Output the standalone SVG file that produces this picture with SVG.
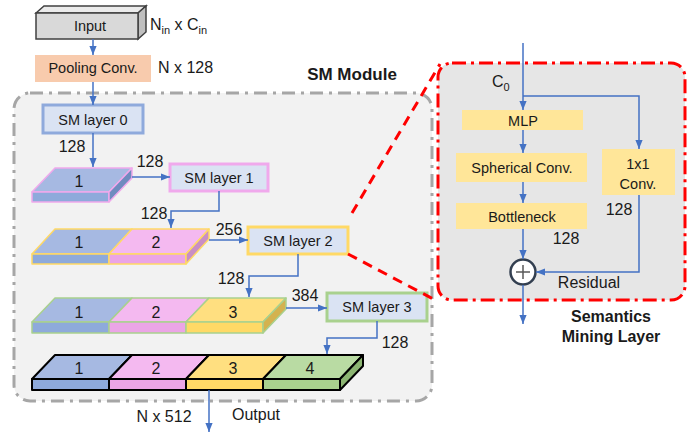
<svg xmlns="http://www.w3.org/2000/svg" width="699" height="436" viewBox="0 0 699 436">
<style>
text{font-family:"Liberation Sans",Arial,sans-serif;fill:#1a1a1a}
.t14{font-size:14.5px}
.t15{font-size:16px}
.mid{text-anchor:middle}
.bold{font-weight:bold}
.sm{fill:#dae3f3;stroke-width:3}
.yb{fill:#ffe699}
.conn{fill:none;stroke:#4472c4;stroke-width:1.5}
.conn.a{marker-end:url(#ah)}
.bT{fill:#a6b9e2}.bF{fill:#8eaadb}.bS{fill:#6f8bbf}
.pT{fill:#f4b9f0}.pF{fill:#eba5e6}.pS{fill:#c98fc4}
.yT{fill:#ffdf80}.yF{fill:#ffd966}.yS{fill:#d4b24f}
.gT{fill:#b9dba3}.gF{fill:#a9d18e}.gS{fill:#8cb572}
.red{fill:none;stroke:#ff0000;stroke-width:3;stroke-dasharray:10 7}
</style>
<defs>
<marker id="ah" viewBox="0 0 10 10" refX="10" refY="5" markerWidth="9" markerHeight="9" markerUnits="userSpaceOnUse" orient="auto">
<path d="M0,1 L10,5 L0,9 z" fill="#4472c4"/>
</marker>
</defs>
<rect width="699" height="436" fill="#ffffff"/>

<g id="sm-module">
<rect x="14" y="93" width="418" height="308" rx="16" fill="#f2f2f2" stroke="#a6a6a6" stroke-width="3" stroke-dasharray="13 6 3 6"/>
<text x="352" y="80" class="bold mid" font-size="17">SM Module</text>
</g>

<g id="sml-panel">
<rect x="438" y="63" width="247" height="237" rx="14" fill="#e6e6e6" stroke="#ff0000" stroke-width="3" stroke-dasharray="14 5 3 5"/>
<text x="611" y="322" class="bold mid" font-size="16">Semantics</text>
<text x="611" y="342" class="bold mid" font-size="16">Mining Layer</text>
</g>

<g id="input">
<polygon points="36,13 44,6 146,6 138,13" fill="#ebebeb" stroke="#404040" stroke-width="1.5"/>
<polygon points="138,13 146,6 146,32 138,39" fill="#bfbfbf" stroke="#404040" stroke-width="1.5"/>
<rect x="36" y="13" width="102" height="26" fill="#d9d9d9" stroke="#404040" stroke-width="1.5"/>
<text x="90" y="31" class="t14 mid">Input</text>
<text x="150" y="30" class="t15">N<tspan font-size="11" dy="4">in</tspan><tspan dy="-4"> x C</tspan><tspan font-size="11" dy="4">in</tspan></text>
</g>

<g id="pooling">
<rect x="35" y="55" width="116" height="27" fill="#f8cbad"/>
<text x="93" y="73" class="t14 mid">Pooling Conv.</text>
<text x="158" y="73" class="t15">N x 128</text>
</g>

<g id="sm-layer-0">
<rect x="43" y="105" width="100" height="28" class="sm" stroke="#8faadc"/>
<text x="93" y="125" class="t14 mid">SM layer 0</text>
</g>
<g id="sm-layer-1">
<rect x="170" y="164" width="98" height="27" class="sm" stroke="#f0a9ec"/>
<text x="219" y="183" class="t14 mid">SM layer 1</text>
</g>
<g id="sm-layer-2">
<rect x="248" y="227" width="100" height="27" class="sm" stroke="#ffd966"/>
<text x="298" y="246" class="t14 mid">SM layer 2</text>
</g>
<g id="sm-layer-3">
<rect x="327" y="293" width="100" height="28" class="sm" stroke="#a9d18e"/>
<text x="377" y="312" class="t14 mid">SM layer 3</text>
</g>

<g id="slab-1" stroke="#f0a9ec" stroke-width="1.5" stroke-linejoin="round">
<polygon class="bT" points="55,168 132,168 109,192 32,192"/>
<rect class="bF" x="32" y="192" width="77" height="10"/>
<polygon class="bS" points="109,192 132,168 132,178 109,202"/>
<text x="79" y="187" class="t15 mid" stroke="none">1</text>
</g>

<g id="slab-2" stroke="#ffd966" stroke-width="1.5" stroke-linejoin="round">
<polygon class="bT" points="55,229 132,229 109,254 32,254"/>
<rect class="bF" x="32" y="254" width="77" height="10"/>
<polygon class="pT" points="132,229 209,229 186,254 109,254"/>
<rect class="pF" x="109" y="254" width="77" height="10"/>
<polygon class="pS" points="186,254 209,229 209,239 186,264"/>
<text x="79" y="248" class="t15 mid" stroke="none">1</text>
<text x="156" y="248" class="t15 mid" stroke="none">2</text>
</g>

<g id="slab-3" stroke="#a9d18e" stroke-width="1.5" stroke-linejoin="round">
<polygon class="bT" points="55,298 132,298 109,322 32,322"/>
<rect class="bF" x="32" y="322" width="77" height="11"/>
<polygon class="pT" points="132,298 209,298 186,322 109,322"/>
<rect class="pF" x="109" y="322" width="77" height="11"/>
<polygon class="yT" points="209,298 286,298 263,322 186,322"/>
<rect class="yF" x="186" y="322" width="77" height="11"/>
<polygon class="yS" points="263,322 286,298 286,309 263,333"/>
<text x="79" y="318" class="t15 mid" stroke="none">1</text>
<text x="156" y="318" class="t15 mid" stroke="none">2</text>
<text x="233" y="318" class="t15 mid" stroke="none">3</text>
</g>

<g id="slab-4" stroke="#000000" stroke-width="2" stroke-linejoin="round">
<polygon class="bT" points="55,355 132,355 109,379 32,379"/>
<rect class="bF" x="32" y="379" width="77" height="11"/>
<polygon class="pT" points="132,355 209,355 186,379 109,379"/>
<rect class="pF" x="109" y="379" width="77" height="11"/>
<polygon class="yT" points="209,355 286,355 263,379 186,379"/>
<rect class="yF" x="186" y="379" width="77" height="11"/>
<polygon class="gT" points="286,355 363,355 340,379 263,379"/>
<rect class="gF" x="263" y="379" width="77" height="11"/>
<polygon class="gS" points="340,379 363,355 363,366 340,390"/>
<text x="79" y="374" class="t15 mid" stroke="none">1</text>
<text x="156" y="374" class="t15 mid" stroke="none">2</text>
<text x="233" y="374" class="t15 mid" stroke="none">3</text>
<text x="310" y="374" class="t15 mid" stroke="none">4</text>
</g>

<g id="mlp">
<rect x="462" y="110" width="121" height="20" class="yb"/>
<text x="523" y="126" class="t14 mid">MLP</text>
</g>
<g id="spherical-conv">
<rect x="456" y="153" width="131" height="29" class="yb"/>
<text x="522" y="173" class="t14 mid">Spherical Conv.</text>
</g>
<g id="bottleneck">
<rect x="456" y="203" width="131" height="26" class="yb"/>
<text x="522" y="222" class="t14 mid">Bottleneck</text>
</g>
<g id="conv-1x1">
<rect x="602" y="149" width="73" height="46" class="yb"/>
<text x="638" y="169" class="t14 mid">1x1</text>
<text x="638" y="189" class="t14 mid">Conv.</text>
</g>
<g id="sum">
<circle cx="523" cy="272" r="12.5" fill="#ffffff" stroke="#333f50" stroke-width="2.5"/>
<path d="M516,272 H530 M523,265 V279" stroke="#595959" stroke-width="1.5"/>
</g>

<g id="connectors">
<path class="conn a" d="M93,39 V55"/>
<path class="conn a" d="M93,82 V105"/>
<path class="conn a" d="M93,133 V167"/>
<path class="conn a" d="M132,177 H170"/>
<path class="conn a" d="M219,191 V211 H171 V228"/>
<path class="conn a" d="M209,240 H248"/>
<path class="conn a" d="M298,254 V276 H249 V297"/>
<path class="conn a" d="M286,308 H327"/>
<path class="conn a" d="M377,321 V338 H327 V354"/>
<path class="conn a" d="M209,390 V432"/>
<path class="conn a" d="M523,43 V110"/>
<path class="conn a" d="M523,96 H639 V149"/>
<path class="conn a" d="M523,130 V153"/>
<path class="conn a" d="M523,182 V203"/>
<path class="conn a" d="M523,229 V259"/>
<path class="conn a" d="M639,195 V272 H536"/>
<path class="conn a" d="M523,285 V324"/>
<path class="red" d="M348,254 L437,301"/>
<path class="red" d="M352,213 L440,64"/>
<text x="72" y="152" class="t15 mid">128</text>
<text x="150" y="167" class="t15 mid">128</text>
<text x="154" y="219" class="t15 mid">128</text>
<text x="229" y="235" class="t15 mid">256</text>
<text x="231" y="284" class="t15 mid">128</text>
<text x="305" y="301" class="t15 mid">384</text>
<text x="395" y="348" class="t15 mid">128</text>
<text x="164" y="422" class="t15 mid">N x 512</text>
<text x="256" y="420" class="t15 mid">Output</text>
<text x="492" y="87" class="t15">C<tspan font-size="11" dy="4">0</tspan></text>
<text x="619" y="215" class="t15 mid">128</text>
<text x="566" y="244" class="t15 mid">128</text>
<text x="589" y="288" class="t15 mid">Residual</text>
</g>
</svg>
